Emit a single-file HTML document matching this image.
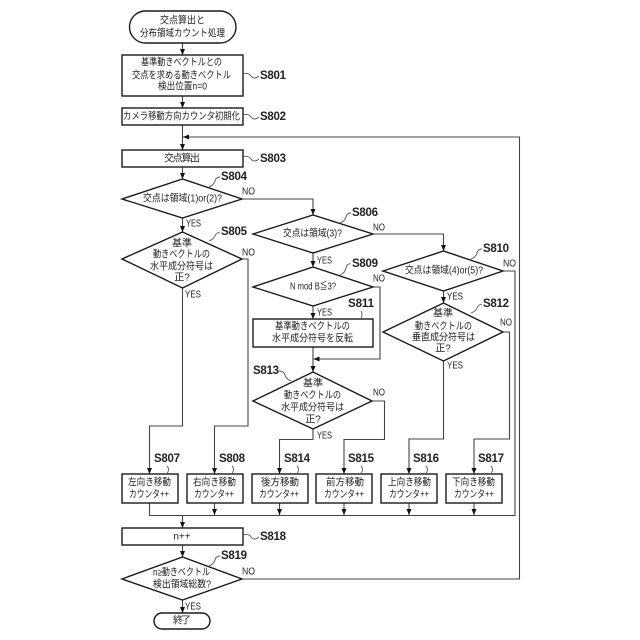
<!DOCTYPE html>
<html><head><meta charset="utf-8"><style>
html,body{margin:0;padding:0;background:#fff}
svg{display:block}
.s{fill:#fff;stroke:#1a1a1a;stroke-width:1.4}
.l{fill:none;stroke:#444;stroke-width:1.1}
.q{fill:none;stroke:#555;stroke-width:.9}
text{font-family:"Liberation Sans","Noto Sans CJK JP",sans-serif;fill:#222;dominant-baseline:central}
.t{font-size:10px}
.c{text-anchor:middle}
.b{font-size:11.5px;font-weight:bold;fill:#111}
.y{font-size:10px;fill:#333}
</style></head><body>
<svg width="640" height="640" viewBox="0 0 640 640" xmlns="http://www.w3.org/2000/svg">
<defs><marker id="a" markerUnits="userSpaceOnUse" markerWidth="6" markerHeight="7" refX="6" refY="3.5" orient="auto"><path d="M0,1L6,3.5L0,6Z" fill="#111"/></marker></defs>

<!-- connectors -->
<g class="l">
<path d="M182.5 43V55" marker-end="url(#a)"/>
<path d="M182.5 96V108" marker-end="url(#a)"/>
<path d="M182.5 125V150" marker-end="url(#a)"/>
<path d="M182.5 167V179" marker-end="url(#a)"/>
<path d="M182.5 218V232" marker-end="url(#a)"/>
<path d="M182.5 288V426H149.500V474" marker-end="url(#a)"/>
<path d="M242 259H248V426H214.500V474" marker-end="url(#a)"/>
<path d="M242 199H313V215" marker-end="url(#a)"/>
<path d="M313 253V267" marker-end="url(#a)"/>
<path d="M313 306V319" marker-end="url(#a)"/>
<path d="M313 347V372" marker-end="url(#a)"/>
<path d="M373 287H380V359H313.500" marker-end="url(#a)"/>
<path d="M373 234H443.500V251" marker-end="url(#a)"/>
<path d="M443.5 291V303" marker-end="url(#a)"/>
<path d="M443.5 361V439H409V474" marker-end="url(#a)"/>
<path d="M503 332H509.500V439H474V474" marker-end="url(#a)"/>
<path d="M313 429V439.500H279.500V474" marker-end="url(#a)"/>
<path d="M372 401H384.500V439.500H344V474" marker-end="url(#a)"/>
<path d="M503 271H515V515.500H149.500V503"/>
<path d="M214.5 503V515" marker-end="url(#a)"/>
<path d="M279.5 503V515" marker-end="url(#a)"/>
<path d="M344 503V515" marker-end="url(#a)"/>
<path d="M409 503V515" marker-end="url(#a)"/>
<path d="M474 503V515" marker-end="url(#a)"/>
<path d="M182.5 515.5V528" marker-end="url(#a)"/>
<path d="M182.5 545V557" marker-end="url(#a)"/>
<path d="M182.5 600V613" marker-end="url(#a)"/>
<path d="M242 579H519.500V137H183" marker-end="url(#a)"/>
</g>

<!-- shapes -->
<rect class="s" x="129.500" y="11" width="106.500" height="32" rx="16"/>
<rect class="s" x="122" y="55" width="121" height="41"/>
<rect class="s" x="122" y="108" width="121" height="17"/>
<rect class="s" x="122" y="150" width="121" height="17"/>
<polygon class="s" points="122,199 182.500,179 242,199 182.500,218"/>
<polygon class="s" points="122,259 182.500,232 242,259 182.500,288"/>
<polygon class="s" points="253,234 313,215 373,234 313,253"/>
<polygon class="s" points="253,287 313,267 373,287 313,306"/>
<rect class="s" x="253" y="319" width="120" height="28"/>
<polygon class="s" points="253,401 313,372 372,401 313,429"/>
<polygon class="s" points="383,271 443.500,251 503,271 443.500,291"/>
<polygon class="s" points="383,332 443.500,303 503,332 443.500,361"/>
<rect class="s" x="122" y="474" width="56" height="29"/>
<rect class="s" x="187" y="474" width="56" height="29"/>
<rect class="s" x="252" y="474" width="56" height="29"/>
<rect class="s" x="316" y="474" width="56" height="29"/>
<rect class="s" x="381" y="474" width="56" height="29"/>
<rect class="s" x="446" y="474" width="56" height="29"/>
<rect class="s" x="122" y="528" width="121" height="17"/>
<polygon class="s" points="122,579 182.500,557 242,579 182.500,600"/>
<rect class="s" x="154" y="613" width="56" height="16" rx="8"/>

<!-- node text -->
<g class="t">
<text x="160" y="21" textLength="45" lengthAdjust="spacingAndGlyphs">交点算出と</text>
<text x="140" y="34" textLength="85" lengthAdjust="spacingAndGlyphs">分布領域カウント処理</text>
<text x="141" y="63" textLength="81" lengthAdjust="spacingAndGlyphs">基準動きベクトルとの</text>
<text x="132" y="76" textLength="99" lengthAdjust="spacingAndGlyphs">交点を求める動きベクトル</text>
<text x="158" y="87" textLength="49" lengthAdjust="spacingAndGlyphs">検出位置n=0</text>
<text x="123" y="117" textLength="117" lengthAdjust="spacingAndGlyphs">カメラ移動方向カウンタ初期化</text>
<text x="164" y="159" textLength="36">交点算出</text>
<text x="143" y="199" textLength="79" lengthAdjust="spacingAndGlyphs">交点は領域(1)or(2)?</text>
<text x="182" y="244" class="c">基準</text>
<text x="153" y="255" textLength="57" lengthAdjust="spacingAndGlyphs">動きベクトルの</text>
<text x="150" y="267" textLength="63" lengthAdjust="spacingAndGlyphs">水平成分符号は</text>
<text x="182" y="278" class="c">正?</text>
<text x="283" y="234" textLength="59" lengthAdjust="spacingAndGlyphs">交点は領域(3)?</text>
<text x="290" y="287" textLength="46" lengthAdjust="spacingAndGlyphs">N mod B≦3?</text>
<text x="275" y="327" textLength="75" lengthAdjust="spacingAndGlyphs">基準動きベクトルの</text>
<text x="272" y="339" textLength="81" lengthAdjust="spacingAndGlyphs">水平成分符号を反転</text>
<text x="313" y="384" class="c">基準</text>
<text x="284" y="396" textLength="57" lengthAdjust="spacingAndGlyphs">動きベクトルの</text>
<text x="281" y="408" textLength="63" lengthAdjust="spacingAndGlyphs">水平成分符号は</text>
<text x="313" y="420" class="c">正?</text>
<text x="405" y="271" textLength="78" lengthAdjust="spacingAndGlyphs">交点は領域(4)or(5)?</text>
<text x="443" y="314" class="c">基準</text>
<text x="415" y="327" textLength="57" lengthAdjust="spacingAndGlyphs">動きベクトルの</text>
<text x="412" y="338" textLength="63" lengthAdjust="spacingAndGlyphs">垂直成分符号は</text>
<text x="443" y="349" class="c">正?</text>
<text x="128" y="483" textLength="43" lengthAdjust="spacingAndGlyphs">左向き移動</text>
<text x="129" y="495" textLength="40" lengthAdjust="spacingAndGlyphs">カウンタ++</text>
<text x="193" y="483" textLength="43" lengthAdjust="spacingAndGlyphs">右向き移動</text>
<text x="194" y="495" textLength="40" lengthAdjust="spacingAndGlyphs">カウンタ++</text>
<text x="261" y="483" textLength="38" lengthAdjust="spacingAndGlyphs">後方移動</text>
<text x="259" y="495" textLength="40" lengthAdjust="spacingAndGlyphs">カウンタ++</text>
<text x="326" y="483" textLength="38" lengthAdjust="spacingAndGlyphs">前方移動</text>
<text x="324" y="495" textLength="40" lengthAdjust="spacingAndGlyphs">カウンタ++</text>
<text x="388" y="483" textLength="43" lengthAdjust="spacingAndGlyphs">上向き移動</text>
<text x="389" y="495" textLength="40" lengthAdjust="spacingAndGlyphs">カウンタ++</text>
<text x="452" y="483" textLength="43" lengthAdjust="spacingAndGlyphs">下向き移動</text>
<text x="454" y="495" textLength="40" lengthAdjust="spacingAndGlyphs">カウンタ++</text>
<text x="182" y="537" class="c">n++</text>
<text x="153" y="573" textLength="57" lengthAdjust="spacingAndGlyphs">n≥動きベクトル</text>
<text x="153" y="585" textLength="58" lengthAdjust="spacingAndGlyphs">検出領域総数?</text>
<text x="173" y="621" textLength="18">終了</text>
</g>

<!-- step labels -->
<g class="b">
<text x="260" y="76" textLength="26">S801</text>
<text x="260" y="117" textLength="26">S802</text>
<text x="260" y="159" textLength="26">S803</text>
<text x="221" y="177" textLength="26">S804</text>
<text x="221" y="232" textLength="26">S805</text>
<text x="352" y="213" textLength="26">S806</text>
<text x="352" y="264" textLength="26">S809</text>
<text x="348" y="304" textLength="26">S811</text>
<text x="253" y="371" textLength="26">S813</text>
<text x="483" y="249" textLength="26">S810</text>
<text x="483" y="304" textLength="26">S812</text>
<text x="154" y="459" textLength="26">S807</text>
<text x="219" y="459" textLength="26">S808</text>
<text x="284" y="459" textLength="26">S814</text>
<text x="348" y="459" textLength="26">S815</text>
<text x="413" y="459" textLength="26">S816</text>
<text x="478" y="459" textLength="26">S817</text>
<text x="260" y="537" textLength="26">S818</text>
<text x="221" y="556" textLength="26">S819</text>
</g>

<!-- YES / NO -->
<g class="y">
<text x="242" y="192" textLength="13" lengthAdjust="spacingAndGlyphs">NO</text>
<text x="186" y="224" textLength="15" lengthAdjust="spacingAndGlyphs">YES</text>
<text x="242" y="253" textLength="13" lengthAdjust="spacingAndGlyphs">NO</text>
<text x="185" y="295" textLength="16" lengthAdjust="spacingAndGlyphs">YES</text>
<text x="373" y="228" textLength="12" lengthAdjust="spacingAndGlyphs">NO</text>
<text x="317" y="261" textLength="15" lengthAdjust="spacingAndGlyphs">YES</text>
<text x="373" y="279" textLength="12" lengthAdjust="spacingAndGlyphs">NO</text>
<text x="317" y="313" textLength="15" lengthAdjust="spacingAndGlyphs">YES</text>
<text x="503" y="264" textLength="13" lengthAdjust="spacingAndGlyphs">NO</text>
<text x="447" y="297" textLength="16" lengthAdjust="spacingAndGlyphs">YES</text>
<text x="500" y="323" textLength="12" lengthAdjust="spacingAndGlyphs">NO</text>
<text x="447" y="366" textLength="16" lengthAdjust="spacingAndGlyphs">YES</text>
<text x="373" y="393" textLength="12" lengthAdjust="spacingAndGlyphs">NO</text>
<text x="317" y="436" textLength="15" lengthAdjust="spacingAndGlyphs">YES</text>
<text x="242" y="572" textLength="13" lengthAdjust="spacingAndGlyphs">NO</text>
<text x="185" y="607" textLength="16" lengthAdjust="spacingAndGlyphs">YES</text>
</g>

<!-- squiggles -->
<g class="q">
<path d="M243 74Q248 72 251 76T259 76"/>
<path d="M243 115Q248 113 251 117T259 117"/>
<path d="M243 157Q248 155 251 159T259 159"/>
<path d="M243 535Q248 533 251 537T259 537"/>
<path d="M209 187Q214 185 215 181T220 177"/>
<path d="M209 241Q214 239 215 236T220 232"/>
<path d="M340 223Q345 221 346 217T351 213"/>
<path d="M340 275Q345 273 346 268T351 264"/>
<path d="M471 259Q476 257 477 253T482 249"/>
<path d="M471 313Q476 311 477 308T482 304"/>
<path d="M279 371Q284 371 285 375T291 381"/>
<path d="M209 566Q214 564 215 560T220 556"/>
<path d="M361 311Q363 314 361 319"/>
<path d="M167 466Q170 469 167 474"/>
<path d="M232 466Q235 469 232 474"/>
<path d="M297 466Q300 469 297 474"/>
<path d="M361 466Q364 469 361 474"/>
<path d="M426 466Q429 469 426 474"/>
<path d="M491 466Q494 469 491 474"/>
</g>
</svg>
</body></html>
